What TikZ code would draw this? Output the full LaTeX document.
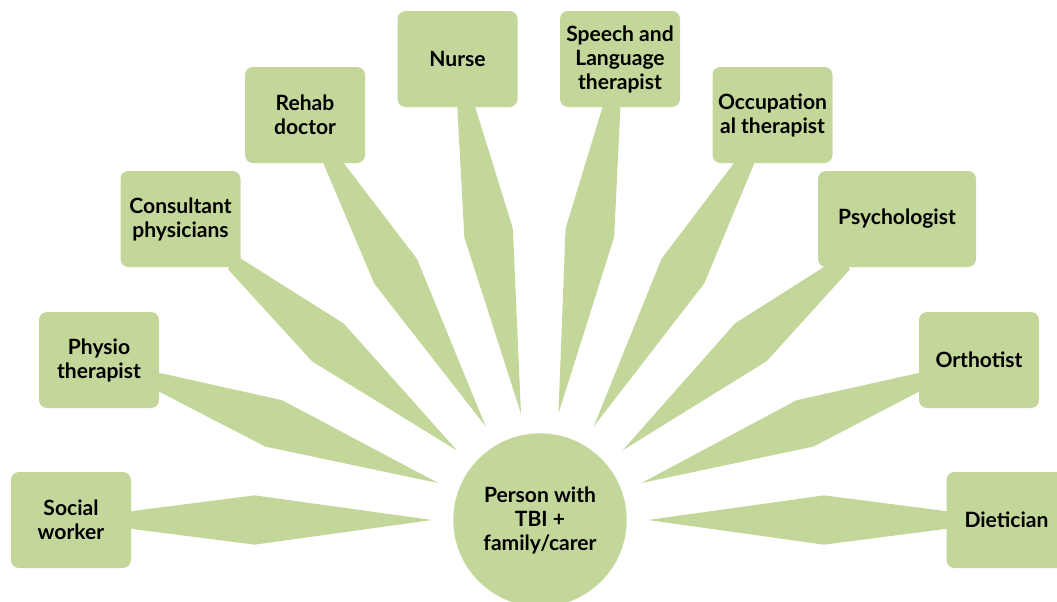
\documentclass[tikz,border=0pt]{standalone}
\usepackage{fontspec}
\setmainfont{Lato}
\usetikzlibrary{calc}
\usetikzlibrary{backgrounds}

\definecolor{leaf}{RGB}{196,215,155}

\tikzset{
  role/.style={fill=leaf, rounded corners=6pt, minimum width=90pt, minimum height=72pt,
    inner sep=0pt, align=center, font=\fontsize{15.8}{18}\selectfont\bfseries},
  hub/.style={circle, fill=leaf, minimum size=130pt, inner sep=0pt, align=center,
    font=\fontsize{15.8}{18}\selectfont\bfseries},
  spoke/.style={fill=leaf}
}

% tapered spoke from a role box towards the hub
\newcommand{\ray}[1]{%
\path (#1) -- (hub) coordinate[pos=0] (#1-b);
\path ($(hub)!81pt!(#1)$) coordinate (#1-t);
\path ($(#1-b)!-5pt!(#1-t)$) coordinate (#1-s);
\path ($(#1-b)!0.41!(#1-t)$) coordinate (#1-k);
\fill[spoke] ($(#1-s)!6pt!90:(#1-t)$) -- ($(#1-k)!18.5pt!90:(#1-t)$) -- (#1-t)
  -- ($(#1-k)!18.5pt!-90:(#1-t)$) -- ($(#1-s)!6pt!-90:(#1-t)$) -- cycle;
}

\begin{document}
\begin{tikzpicture}[x=0.75pt,y=-0.75pt]
\useasboundingbox (0,0) rectangle (1057,601);

\node[hub] (hub) at (540,520) {Person with\\TBI +\\family/carer};

\node[role] (sw) at (71,520) {Social\\worker};
\node[role] (physio) at (99,360) {Physio\\therapist};
\node[role] (consult) at (180.5,219) {Consultant\\physicians};
\node[role] (rehab) at (305,115) {Rehab\\doctor};
\node[role] (nurse) at (457.5,59) {Nurse};
\node[role] (salt) at (620,59) {Speech and\\Language\\therapist};
\node[role] (ot) at (772.5,115) {Occupation\\al therapist};
\node[role,minimum width=118.5pt] (psych) at (897,219) {Psychologist};
\node[role] (ortho) at (979,360) {Orthotist};
\node[role] (diet) at (1006.5,520) {Dietician};

\begin{scope}[on background layer]
\ray{sw}
\ray{physio}
\ray{consult}
\ray{rehab}
\ray{nurse}
\ray{salt}
\ray{ot}
\ray{psych}
\ray{ortho}
\ray{diet}
\end{scope}

\end{tikzpicture}
\end{document}
